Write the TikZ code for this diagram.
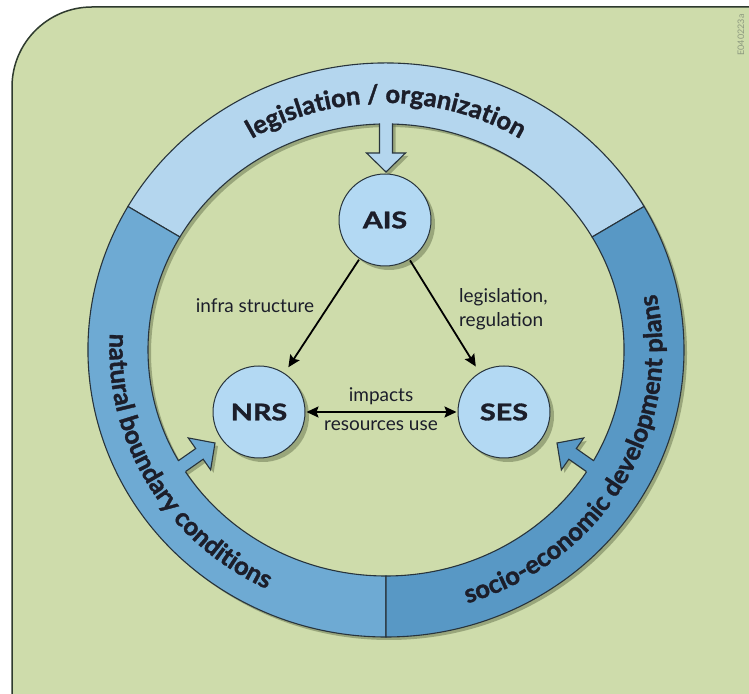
\documentclass[tikz,border=0pt]{standalone}
\usepackage{fontspec}
\setmainfont{Lato}
\newfontfamily\heavyfont{Lato Bold}[FakeBold=1.4]
\usetikzlibrary{decorations.text,arrows.meta,calc,shadows}
\definecolor{bg}{HTML}{CEDCAB}
\definecolor{ringtop}{HTML}{B4D6EE}
\definecolor{ringleft}{HTML}{6EAAD3}
\definecolor{ringright}{HTML}{5898C5}
\definecolor{nodefill}{HTML}{B3D9F3}
\definecolor{edgec}{HTML}{28343C}
\definecolor{shadowc}{HTML}{6E7A55}
\definecolor{ink}{HTML}{1C1E2A}
\definecolor{panelline}{HTML}{2E3A2E}
\definecolor{codec}{HTML}{8E9A80}
\newcommand\ringfnt{\heavyfont\fontsize{25.5}{25.5}\selectfont}
\newcommand\aw{6.5}
\newcommand\ah{19}
\newcommand\ahw{19.5}
\newcommand\arrowshadow[4]{%
 \begin{scope}[shift={(#1+3,#2-3)},rotate=#3]
  \fill[shadowc,opacity=0.55] (-#4-6,-\aw) -- (-\ah,-\aw) -- (-\ah,-\ahw) -- (0,0) -- (-\ah,\ahw) -- (-\ah,\aw) -- (-#4-6,\aw) -- cycle;
 \end{scope}}
\newcommand\arrowbody[5]{%
 \begin{scope}[shift={(#1,#2)},rotate=#3]
  \fill[#5] (-#4-4,-\aw) -- (-\ah,-\aw) -- (-\ah,-\ahw) -- (0,0) -- (-\ah,\ahw) -- (-\ah,\aw) -- (-#4-4,\aw) -- cycle;
  \draw[edgec,line width=1.1pt,line join=miter] (-#4,-\aw) -- (-\ah,-\aw) -- (-\ah,-\ahw) -- (0,0) -- (-\ah,\ahw) -- (-\ah,\aw) -- (-#4,\aw);
 \end{scope}}
\begin{document}
\begin{tikzpicture}[x=1pt,y=1pt,
  sys/.style={circle, minimum size=92pt, inner sep=0pt, fill=nodefill, draw=edgec, line width=1pt,
    font=\heavyfont\fontsize{23}{23}\selectfont, text=ink,
    drop shadow={shadow xshift=4pt, shadow yshift=-4pt, fill=shadowc, opacity=0.55}},
  lab/.style={font=\fontsize{19}{19}\selectfont, text=ink, inner sep=0pt},
  conn/.style={draw=black, line width=1.8pt, -{Stealth[length=12pt,width=11pt,inset=2pt]}},
  seg/.style={draw=edgec, line width=1.1pt}
]
\useasboundingbox (0,0) rectangle (749,693);
\clip (0,0) rectangle (749,693);
\fill[white] (0,0) rectangle (749,693);
% panel
\fill[bg] (12,-10) -- (12,606) arc[start angle=180,end angle=90,radius=80pt] -- (760,686) -- (760,-10) -- cycle;
\draw[panelline, line width=1.5pt] (12,-10) -- (12,606) arc[start angle=180,end angle=90,radius=80pt] -- (760,686);
\node[rotate=90, font=\fontsize{9}{9}\selectfont, text=codec, inner sep=0pt] (code) at (741,658) {E040223a};

\coordinate (C) at (386,343);
\coordinate (CS) at (389,340);
% ring shadow
\fill[shadowc, opacity=0.55, even odd rule] (CS) ellipse[x radius=298pt, y radius=287pt] (CS) ellipse[x radius=238pt, y radius=226pt];
% arrow shadows
\arrowshadow{386}{521}{-90}{48.5}
\arrowshadow{215}{250}{35}{40.4}
\arrowshadow{557}{250}{145}{40.4}
% ring segments
\filldraw[seg, fill=ringtop] ($(C)+(30:298pt and 287pt)$) arc[start angle=30,end angle=150,x radius=298pt,y radius=287pt]
  -- ($(C)+(150:238pt and 226pt)$) arc[start angle=150,end angle=30,x radius=238pt,y radius=226pt] -- cycle;
\filldraw[seg, fill=ringleft] ($(C)+(150:298pt and 287pt)$) arc[start angle=150,end angle=270,x radius=298pt,y radius=287pt]
  -- ($(C)+(270:238pt and 226pt)$) arc[start angle=270,end angle=150,x radius=238pt,y radius=226pt] -- cycle;
\filldraw[seg, fill=ringright] ($(C)+(270:298pt and 287pt)$) arc[start angle=270,end angle=390,x radius=298pt,y radius=287pt]
  -- ($(C)+(390:238pt and 226pt)$) arc[start angle=390,end angle=270,x radius=238pt,y radius=226pt] -- cycle;
% block arrows
\arrowbody{386}{521}{-90}{48.5}{ringtop}
\arrowbody{215}{250}{35}{40.4}{ringleft}
\arrowbody{557}{250}{145}{40.4}{ringright}
% ring texts
\path[decorate, decoration={text along path, text align=center, text color=ink,
  text={|\ringfnt|legislation / organization}}]
  ($(C)+(150:258.5pt and 247pt)$) arc[start angle=150,end angle=30,x radius=258.5pt,y radius=247pt];
\path[decorate, decoration={text along path, text align=center, text color=ink,
  text={|\ringfnt|natural boundary conditions}}]
  ($(C)+(150:276.5pt and 265pt)$) arc[start angle=150,end angle=270,x radius=276.5pt,y radius=265pt];
\path[decorate, decoration={text along path, text align=center, text color=ink,
  text={|\ringfnt|socio-economic development plans}}]
  ($(C)+(270:276.5pt and 265pt)$) arc[start angle=270,end angle=390,x radius=276.5pt,y radius=265pt];
% nodes
\node[sys] (AIS) at (385,473) {\scalebox{1.25}[1]{AIS}};
\node[sys] (NRS) at (259,281) {\scalebox{1.25}[1]{NRS}};
\node[sys] (SES) at (504,281) {\scalebox{1.25}[1]{SES}};
% connectors
\draw[conn, shorten >=7pt, shorten <=1pt] (AIS) -- (NRS);
\draw[conn, shorten >=7pt, shorten <=1pt] (AIS) -- (SES);
\draw[conn, {Stealth[length=12pt,width=11pt,inset=2pt]}-{Stealth[length=12pt,width=11pt,inset=2pt]}, shorten >=1pt, shorten <=1pt] (NRS) -- (SES);
% labels
\node[lab] (l1) at (255,387) {infra structure};
\node[lab, anchor=west] (l2) at (459,396) {legislation,};
\node[lab, anchor=west] (l3) at (459,372) {regulation};
\node[lab] (l4) at (381,297) {impacts};
\node[lab] (l5) at (381,267) {resources use};
\end{tikzpicture}
\end{document}
